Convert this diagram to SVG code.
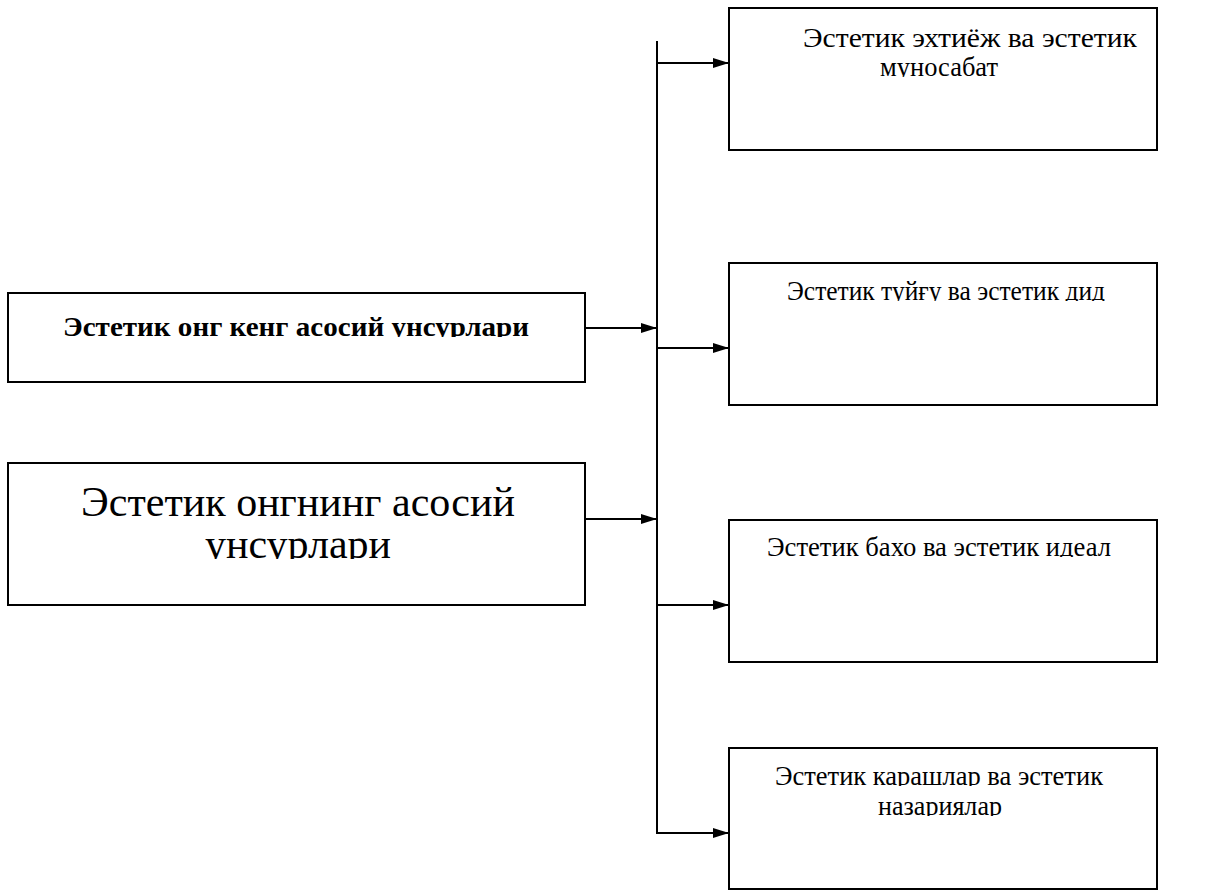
<svg xmlns="http://www.w3.org/2000/svg" width="1216" height="891" viewBox="0 0 1216 891">
<style>
.box{fill:#fff;stroke:#000;stroke-width:2}
.ln{fill:none;stroke:#000;stroke-width:2}
.t{font-family:"Liberation Serif","Times New Roman",serif;fill:#000;text-anchor:middle}
.r{font-size:28px}
.b{font-size:28px;font-weight:bold}
.big{font-size:42px}
</style>
<defs>
<marker id="ah" viewBox="0 0 16 10" refX="16" refY="5" markerWidth="16" markerHeight="10" markerUnits="userSpaceOnUse" orient="auto">
<path d="M0,0 L16,5 L0,10 Z" fill="#000"/>
</marker>
<clipPath id="c1"><rect x="0" y="0" width="1216" height="48"/></clipPath>
<clipPath id="c2"><rect x="0" y="50" width="1216" height="27"/></clipPath>
<clipPath id="c3"><rect x="0" y="270" width="1216" height="31"/></clipPath>
<clipPath id="c4"><rect x="0" y="525" width="1216" height="32"/></clipPath>
<clipPath id="c5"><rect x="0" y="755" width="1216" height="31"/></clipPath>
<clipPath id="c6"><rect x="0" y="788" width="1216" height="28"/></clipPath>
<clipPath id="c7"><rect x="0" y="300" width="1216" height="37"/></clipPath>
<clipPath id="c8"><rect x="0" y="470" width="1216" height="48"/></clipPath>
<clipPath id="c9"><rect x="0" y="520" width="1216" height="39"/></clipPath>
</defs>
<g id="connectors">
<line class="ln" x1="657" y1="41" x2="657" y2="834"/>
<line class="ln" x1="585" y1="328" x2="657" y2="328" marker-end="url(#ah)"/>
<line class="ln" x1="585" y1="519" x2="657" y2="519" marker-end="url(#ah)"/>
<line class="ln" x1="657" y1="63" x2="729" y2="63" marker-end="url(#ah)"/>
<line class="ln" x1="657" y1="348" x2="729" y2="348" marker-end="url(#ah)"/>
<line class="ln" x1="657" y1="605" x2="729" y2="605" marker-end="url(#ah)"/>
<line class="ln" x1="656" y1="833" x2="729" y2="833" marker-end="url(#ah)"/>
</g>
<g id="n-left1">
<rect class="box" x="8" y="293" width="577" height="89"/>
<text class="t b" x="296" y="336" textLength="466" lengthAdjust="spacingAndGlyphs" clip-path="url(#c7)">Эстетик онг кенг асосий унсурлари</text>
</g>
<g id="n-left2">
<rect class="box" x="8" y="463" width="577" height="142"/>
<text class="t big" x="298" y="516" clip-path="url(#c8)">Эстетик онгнинг асосий</text>
<text class="t big" x="298" y="558" clip-path="url(#c9)">унсурлари</text>
</g>
<g id="n-r1">
<rect class="box" x="729" y="8" width="428" height="142"/>
<text class="t r" x="970" y="47" textLength="334" lengthAdjust="spacingAndGlyphs" clip-path="url(#c1)">Эстетик эхтиёж ва эстетик</text>
<text class="t r" x="939" y="76" textLength="118" lengthAdjust="spacingAndGlyphs" clip-path="url(#c2)">муносабат</text>
</g>
<g id="n-r2">
<rect class="box" x="729" y="263" width="428" height="142"/>
<text class="t r" x="946" y="300" textLength="318" lengthAdjust="spacingAndGlyphs" clip-path="url(#c3)">Эстетик туйғу ва эстетик дид</text>
</g>
<g id="n-r3">
<rect class="box" x="729" y="520" width="428" height="142"/>
<text class="t r" x="939" y="556" textLength="344" lengthAdjust="spacingAndGlyphs" clip-path="url(#c4)">Эстетик бахо ва эстетик идеал</text>
</g>
<g id="n-r4">
<rect class="box" x="729" y="748" width="428" height="141"/>
<text class="t r" x="939" y="785" textLength="328" lengthAdjust="spacingAndGlyphs" clip-path="url(#c5)">Эстетик карашлар ва эстетик</text>
<text class="t r" x="940" y="815" textLength="124" lengthAdjust="spacingAndGlyphs" clip-path="url(#c6)">назариялар</text>
</g>
</svg>
